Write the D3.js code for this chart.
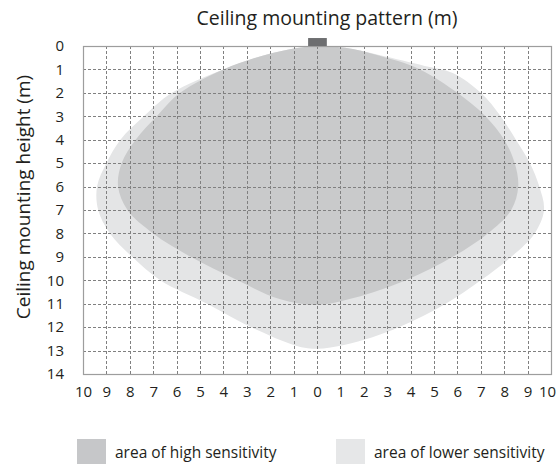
<!DOCTYPE html>
<html>
<head>
<meta charset="utf-8">
<script src="https://cdn.jsdelivr.net/npm/d3@7"></script>
<style>
  body { margin: 0; background: #fff; }
  svg text { font-family: "Open Sans", "Noto Sans", sans-serif; fill: #231f20; }
</style>
</head>
<body>
<div id="chart"></div>
<script>
// ceiling mounting pattern â€” two sensitivity zones on a metre grid

const xTicks = d3.range(-10, 11);
const yTicks = d3.range(0, 15);

// outline of the high sensitivity zone, [x m, height m], clockwise from the sensor
const highZone = [
  [0, 0], [1.2, 0.08], [2.6, 0.4], [4.4, 1.0], [6.0, 2.0], [7.2, 3.0], [8.0, 4.0],
  [8.45, 5.0], [8.6, 6.0], [8.3, 7.0], [7.3, 8.0], [5.8, 9.0], [3.8, 10.0],
  [1.6, 10.75], [0, 11.05], [-1.6, 10.8], [-3.4, 10.0], [-5.4, 9.0], [-7.0, 8.0],
  [-8.1, 7.0], [-8.5, 6.0], [-8.35, 5.0], [-7.75, 4.0], [-6.85, 3.0], [-5.85, 2.0],
  [-4.0, 1.0], [-1.9, 0.3]
];

// outline of the lower sensitivity zone
const lowZone = [
  [0, 0], [1.2, 0.08], [2.7, 0.4], [4.6, 0.85], [5.8, 1.15], [7.0, 2.0], [7.85, 3.0],
  [8.5, 4.0], [9.1, 5.0], [9.5, 6.0], [9.7, 7.0], [9.3, 8.0], [8.3, 9.0], [7.0, 10.0],
  [5.5, 11.0], [3.5, 12.0], [1.2, 12.75], [-0.4, 12.9], [-2.6, 12.1], [-4.7, 11.0],
  [-6.7, 10.0], [-7.9, 9.0], [-8.85, 8.0], [-9.35, 7.0], [-9.4, 6.0], [-9.0, 5.0],
  [-8.4, 4.0], [-7.4, 3.0], [-6.2, 2.0], [-4.0, 1.0], [-1.9, 0.3]
];

const sensor = { x0: -0.38, x1: 0.42, y0: -0.34, y1: 0 };

const legendItems = [
  { label: "area of high sensitivity", color: "#c6c7c9" },
  { label: "area of lower sensitivity", color: "#e6e7e8" }
];

const width = 557;
const height = 465;
const margin = { top: 46, right: 6, bottom: 91, left: 83 };

const svg = d3.select("#chart")
  .append("svg")
  .attr("width", width)
  .attr("height", height);

const x = d3.scaleLinear()
  .domain([-10, 10])
  .range([margin.left, width - margin.right]);

const y = d3.scaleLinear()
  .domain([0, 14])
  .range([margin.top, height - margin.bottom]);

const zone = d3.line()
  .x(d => x(d[0]))
  .y(d => y(d[1]))
  .curve(d3.curveCatmullRomClosed.alpha(0.5));

svg.append("path")
  .attr("d", zone(lowZone))
  .attr("fill", "#e4e5e6");

svg.append("path")
  .attr("d", zone(highZone))
  .attr("fill", "#c9cacb");

// dashed grid
const grid = svg.append("g")
  .attr("stroke", "#808080")
  .attr("stroke-width", 1)
  .attr("stroke-dasharray", "3,2");

grid.selectAll("line.v")
  .data(xTicks.slice(1, -1))
  .enter()
  .append("line")
  .attr("class", "v")
  .attr("x1", d => Math.round(x(d)) + 0.5)
  .attr("x2", d => Math.round(x(d)) + 0.5)
  .attr("y1", y(0))
  .attr("y2", y(14));

grid.selectAll("line.h")
  .data(yTicks.slice(1, -1))
  .enter()
  .append("line")
  .attr("class", "h")
  .attr("x1", x(-10))
  .attr("x2", x(10))
  .attr("y1", d => Math.round(y(d)) + 0.5)
  .attr("y2", d => Math.round(y(d)) + 0.5);

svg.append("rect")
  .attr("x", x(-10) + 0.5)
  .attr("y", y(0) + 0.5)
  .attr("width", x(10) - x(-10))
  .attr("height", y(14) - y(0))
  .attr("fill", "none")
  .attr("stroke", "#9d9d9d")
  .attr("stroke-width", 1.2);

svg.append("rect")
  .attr("x", x(sensor.x0))
  .attr("y", y(sensor.y0))
  .attr("width", x(sensor.x1) - x(sensor.x0))
  .attr("height", y(sensor.y1) - y(sensor.y0))
  .attr("fill", "#6d6e70");

// axes, labels only
const xAxis = d3.axisBottom(x)
  .tickValues(xTicks)
  .tickFormat(d => Math.abs(d))
  .tickSize(0)
  .tickPadding(12);

svg.append("g")
  .attr("transform", `translate(0,${y(14)})`)
  .call(xAxis)
  .call(g => g.select(".domain").remove())
  .selectAll("text")
  .style("font-size", "15px")
  .style("font-family", "'Open Sans', sans-serif")
  .attr("fill", "#231f20")
  .attr("dx", d => d === 10 ? -4 : 0);

const yAxis = d3.axisLeft(y)
  .tickValues(yTicks)
  .tickSize(0)
  .tickPadding(19);

svg.append("g")
  .attr("transform", `translate(${x(-10)},0)`)
  .call(yAxis)
  .call(g => g.select(".domain").remove())
  .selectAll("text")
  .style("font-size", "15px")
  .style("font-family", "'Open Sans', sans-serif")
  .attr("fill", "#231f20");

svg.append("text")
  .attr("x", 327)
  .attr("y", 25)
  .attr("text-anchor", "middle")
  .style("font-size", "19.5px")
  .text("Ceiling mounting pattern (m)");

svg.append("text")
  .attr("transform", `translate(30,197) rotate(-90)`)
  .attr("text-anchor", "middle")
  .style("font-size", "19px")
  .text("Ceiling mounting height (m)");

// legend
const legend = svg.selectAll("g.legend")
  .data(legendItems)
  .enter()
  .append("g")
  .attr("class", "legend")
  .attr("transform", (d, i) => `translate(${i === 0 ? 77 : 336},439)`);

legend.append("rect")
  .attr("width", 29)
  .attr("height", 25)
  .attr("fill", d => d.color);

legend.append("text")
  .attr("x", 38)
  .attr("y", 19)
  .style("font-size", "15.5px")
  .text(d => d.label);
</script>
</body>
</html>
